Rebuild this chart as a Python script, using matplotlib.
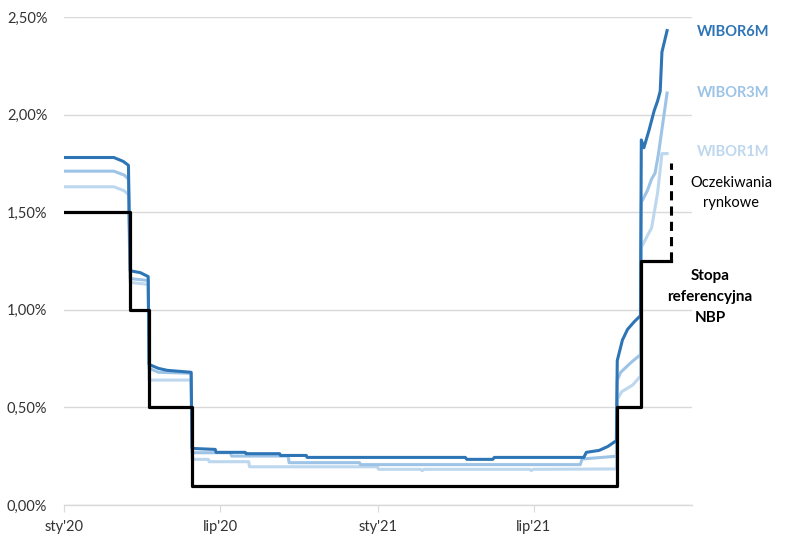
import pandas as pd
import numpy as np
import matplotlib
matplotlib.use('Agg')
import matplotlib.pyplot as plt
from matplotlib.ticker import FuncFormatter

plt.rcParams['font.family'] = ['Lato', 'DejaVu Sans']

# ---- dane ----
w6m_dates = ['2020-01-01', '2020-02-28', '2020-03-10', '2020-03-16', '2020-03-18', '2020-03-30',
             '2020-04-08', '2020-04-09', '2020-04-20', '2020-04-30', '2020-05-28', '2020-05-29',
             '2020-06-25', '2020-06-26', '2020-07-30', '2020-07-31', '2020-09-08', '2020-09-09',
             '2020-10-09', '2020-10-10', '2021-04-12', '2021-04-14', '2021-05-14', '2021-05-16',
             '2021-08-28', '2021-08-31', '2021-09-15', '2021-09-25', '2021-10-05', '2021-10-06',
             '2021-10-12', '2021-10-18', '2021-10-26', '2021-11-02', '2021-11-03', '2021-11-06',
             '2021-11-12', '2021-11-18', '2021-11-22', '2021-11-25', '2021-11-27', '2021-12-03']
w6m_vals = [1.78, 1.78, 1.76, 1.74, 1.20, 1.19,
            1.17, 0.72, 0.70, 0.69, 0.68, 0.29,
            0.285, 0.27, 0.27, 0.263, 0.263, 0.254,
            0.254, 0.244, 0.244, 0.234, 0.234, 0.244,
            0.244, 0.27, 0.28, 0.30, 0.33, 0.74,
            0.845, 0.90, 0.94, 0.97, 1.87, 1.83,
            1.92, 2.02, 2.07, 2.12, 2.32, 2.43]

w3m_dates = ['2020-01-01', '2020-02-28', '2020-03-11', '2020-03-16', '2020-03-18', '2020-04-08',
             '2020-04-09', '2020-04-20', '2020-05-28', '2020-05-29', '2020-07-13', '2020-07-14',
             '2020-09-18', '2020-09-19', '2020-12-10', '2020-12-11', '2021-08-24', '2021-08-26',
             '2021-10-05', '2021-10-06', '2021-10-10', '2021-10-22', '2021-11-02', '2021-11-03',
             '2021-11-10', '2021-11-15', '2021-11-19', '2021-11-23', '2021-12-03']
w3m_vals = [1.71, 1.71, 1.69, 1.67, 1.16, 1.15,
            0.70, 0.68, 0.675, 0.268, 0.268, 0.251,
            0.251, 0.217, 0.217, 0.207, 0.207, 0.236,
            0.25, 0.64, 0.68, 0.73, 0.77, 1.55,
            1.61, 1.67, 1.70, 1.80, 2.11]

w1m_dates = ['2020-01-01', '2020-02-28', '2020-03-11', '2020-03-16', '2020-03-18', '2020-04-08',
             '2020-04-09', '2020-05-28', '2020-05-29', '2020-06-17', '2020-06-18', '2020-08-03',
             '2020-08-04', '2020-12-31', '2021-01-01', '2021-02-19', '2021-02-21', '2021-02-23',
             '2021-06-26', '2021-06-28', '2021-06-30', '2021-10-05', '2021-10-06', '2021-10-11',
             '2021-10-24', '2021-11-02', '2021-11-03', '2021-11-15', '2021-11-22', '2021-11-27',
             '2021-12-03']
w1m_vals = [1.63, 1.63, 1.61, 1.59, 1.14, 1.13,
            0.64, 0.64, 0.234, 0.234, 0.222, 0.222,
            0.196, 0.196, 0.183, 0.183, 0.176, 0.183,
            0.183, 0.176, 0.183, 0.185, 0.54, 0.58,
            0.615, 0.66, 1.32, 1.42, 1.60, 1.80,
            1.80]

nbp_dates = ['2020-01-01', '2020-03-18', '2020-04-09', '2020-05-29', '2021-10-06', '2021-11-03', '2021-12-08']
nbp_vals = [1.50, 1.00, 0.50, 0.10, 0.50, 1.25, 1.25]

exp_date = '2021-12-08'
exp_vals = [1.25, 1.75]

xtick_dates = ['2020-01-01', '2020-07-01', '2021-01-01', '2021-07-01']
xtick_labels = ["sty'20", "lip'20", "sty'21", "lip'21"]

c6 = '#2E75B6'
c3 = '#9DC3E6'
c1 = '#BDD7EE'

fig = plt.figure(figsize=(8, 5.46), dpi=100)
ax = fig.add_axes([0.08, 0.075, 0.785, 0.894])

ax.plot(pd.to_datetime(w1m_dates), w1m_vals, color=c1, linewidth=2.2, zorder=2)
ax.plot(pd.to_datetime(w3m_dates), w3m_vals, color=c3, linewidth=2.2, zorder=3)
ax.plot(pd.to_datetime(w6m_dates), w6m_vals, color=c6, linewidth=2.2, zorder=4)
ax.step(pd.to_datetime(nbp_dates), nbp_vals, where='post', color='black', linewidth=2.3, zorder=5)
ax.plot(pd.to_datetime([exp_date, exp_date]), exp_vals, color='black', linewidth=2.2,
        linestyle=(0, (3, 2)), zorder=5)

# ---- osie ----
ax.set_xlim(pd.Timestamp('2020-01-01'), pd.Timestamp('2022-01-01'))
ax.set_ylim(0, 2.5)
ax.set_yticks(np.arange(0, 2.51, 0.5))
ax.yaxis.set_major_formatter(FuncFormatter(lambda v, p: ('%.2f%%' % v).replace('.', ',')))
ax.set_xticks(pd.to_datetime(xtick_dates))
ax.set_xticklabels(xtick_labels)
ax.grid(axis='y', color='#D9D9D9', linewidth=1)
ax.set_axisbelow(True)
for s in ['top', 'right', 'left']:
    ax.spines[s].set_visible(False)
ax.spines['bottom'].set_color('#D9D9D9')
ax.spines['bottom'].set_linewidth(1)
ax.tick_params(axis='y', length=0, pad=12, labelsize=10.5, labelcolor='#333333')
ax.tick_params(axis='x', length=5, color='#D9D9D9', pad=6, labelsize=10.5, labelcolor='#333333')


# ---- opisy ----
def fx(px):
    return px / 800.0


def fy(py):
    return 1 - py / 546.0


fig.text(fx(733), fy(32), 'WIBOR6M', color=c6, fontsize=10.5, fontweight='bold', ha='center', va='center')
fig.text(fx(733), fy(93), 'WIBOR3M', color=c3, fontsize=10.5, fontweight='bold', ha='center', va='center')
fig.text(fx(733), fy(152), 'WIBOR1M', color=c1, fontsize=10.5, fontweight='bold', ha='center', va='center')
fig.text(fx(731), fy(193), 'Oczekiwania\nrynkowe', color='black', fontsize=10.5, ha='center',
         va='center', linespacing=1.5)
fig.text(fx(710), fy(297), 'Stopa\nreferencyjna\nNBP', color='black', fontsize=11, fontweight='bold',
         ha='center', va='center', linespacing=1.6)

fig.savefig('out.png', dpi=100)
